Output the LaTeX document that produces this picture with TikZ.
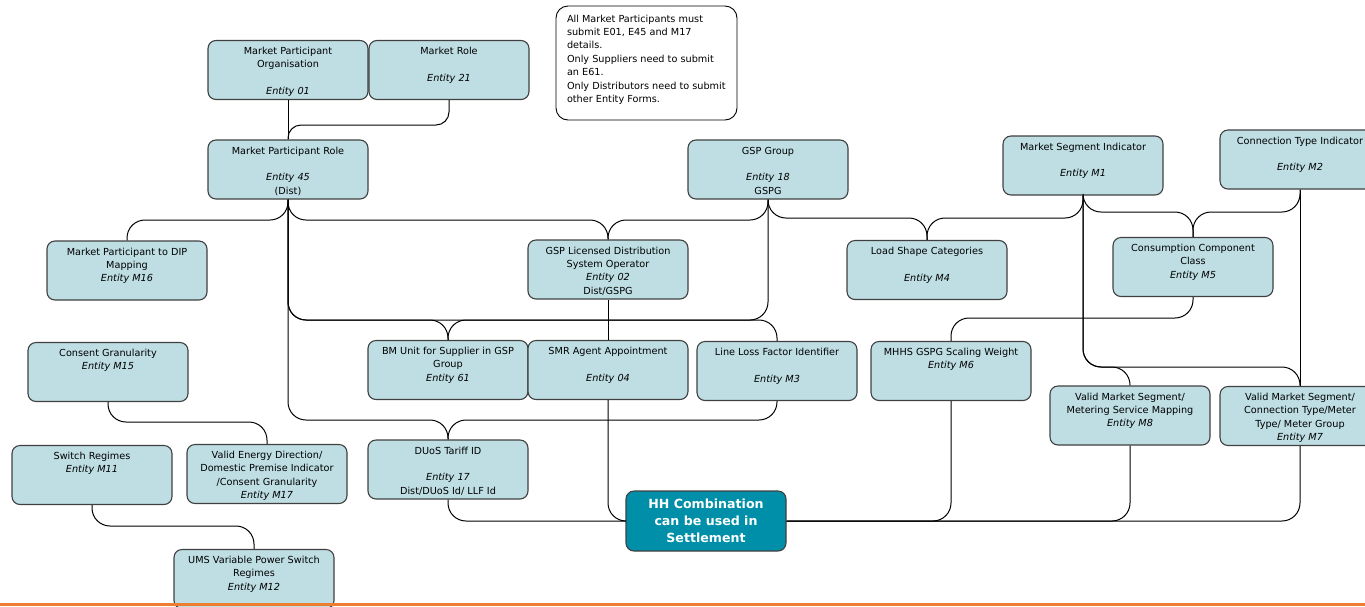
\documentclass[tikz,border=0pt]{standalone}
\usepackage{fontspec}
\setmainfont{DejaVu Sans}
\definecolor{boxblue}{RGB}{190,222,228}
\definecolor{boxline}{RGB}{64,64,64}
\definecolor{hhteal}{RGB}{0,143,168}
\definecolor{orangebar}{RGB}{237,125,49}
\newcommand{\et}[1]{\parbox[c][59pt][t]{158pt}{\centering\fontsize{9.7}{13.4}\selectfont\rule{0pt}{14pt}#1}}
\begin{document}
\begin{tikzpicture}[x=1pt,y=-1pt,
  ebox/.style={draw=boxline, fill=boxblue, line width=1.1pt, rounded corners=8pt, inner sep=0pt, minimum width=160pt, minimum height=59pt},
  hhbox/.style={draw=boxline, fill=hhteal, line width=1.1pt, rounded corners=8pt, inner sep=0pt, minimum width=160pt, minimum height=60pt, align=center, text=white, font=\fontsize{12.6}{17}\selectfont\bfseries},
  notebox/.style={draw=black, fill=white, line width=0.9pt, rounded corners=12pt, inner sep=0pt, minimum width=181pt, minimum height=114pt},
  conn/.style={draw=black, line width=1pt, rounded corners=18pt}]
\useasboundingbox (0,0) rectangle (1365,606);

% nodes
\node[ebox] (MPO) at (288,70) {\et{Market Participant\\Organisation\\\mbox{}\\\textit{Entity 01}}};
\node[ebox] (Role) at (449,70) {\et{Market Role\\\mbox{}\\\textit{Entity 21}}};
\node[notebox] (note) at (646.5,63) {\parbox[c][114pt][t]{181pt}{\raggedright\leftskip=11pt\fontsize{9.7}{13.4}\selectfont\rule{0pt}{16pt}All Market Participants must\\submit E01, E45 and M17\\details.\\Only Suppliers need to submit\\an E61.\\Only Distributors need to submit\\other Entity Forms.}};
\node[ebox] (MPR) at (288,169.5) {\et{Market Participant Role\\\mbox{}\\\textit{Entity 45}\\(Dist)}};
\node[ebox] (GSPG) at (768,169.5) {\et{GSP Group\\\mbox{}\\\textit{Entity 18}\\GSPG}};
\node[ebox] (MSI) at (1083,165.5) {\et{Market Segment Indicator\\\mbox{}\\\textit{Entity M1}}};
\node[ebox] (CTI) at (1300,159.5) {\et{Connection Type Indicator\\\mbox{}\\\textit{Entity M2}}};
\node[ebox] (M16) at (127,270.5) {\et{Market Participant to DIP\\Mapping\\\textit{Entity M16}}};
\node[ebox] (LDSO) at (608,269.5) {\et{GSP Licensed Distribution\\System Operator\\\textit{Entity 02}\\Dist/GSPG}};
\node[ebox] (M4) at (927,270) {\et{Load Shape Categories\\\mbox{}\\\textit{Entity M4}}};
\node[ebox] (M5) at (1193,267) {\et{Consumption Component\\Class\\\textit{Entity M5}}};
\node[ebox] (M15) at (108,372) {\et{Consent Granularity\\\textit{Entity M15}}};
\node[ebox] (E61) at (448,370) {\et{BM Unit for Supplier in GSP\\Group\\\textit{Entity 61}}};
\node[ebox] (E04) at (608,370) {\et{SMR Agent Appointment\\\mbox{}\\\textit{Entity 04}}};
\node[ebox] (M3) at (777,371) {\et{Line Loss Factor Identifier\\\mbox{}\\\textit{Entity M3}}};
\node[ebox] (M6) at (951,371) {\et{MHHS GSPG Scaling Weight\\\textit{Entity M6}}};
\node[ebox] (M8) at (1130,415.5) {\et{Valid Market Segment/\\Metering Service Mapping\\\textit{Entity M8}}};
\node[ebox] (M7) at (1300,416) {\et{Valid Market Segment/\\Connection Type/Meter\\Type/ Meter Group\\\textit{Entity M7}}};
\node[ebox] (M11) at (92,475) {\et{Switch Regimes\\\textit{Entity M11}}};
\node[ebox] (M17) at (267,474) {\et{Valid Energy Direction/\\Domestic Premise Indicator\\/Consent Granularity\\\textit{Entity M17}}};
\node[ebox] (E17) at (448,469.5) {\et{DUoS Tariff ID\\\mbox{}\\\textit{Entity 17}\\Dist/DUoS Id/ LLF Id}};
\node[hhbox] (HH) at (706,521) {HH Combination\\can be used in\\Settlement};
\node[ebox] (M12) at (254,579) {\et{UMS Variable Power Switch\\Regimes\\\textit{Entity M12}}};

% connectors
\draw[conn] (MPO.south) -- (MPR.north);
\draw[conn, rounded corners=13pt] (Role.south) -- (Role.south |- 0,125) -- (MPR.north |- 0,125) -- (MPR.north);
\draw[conn] (MPR.south) -- (MPR.south |- 0,220) -- (M16.north |- 0,220) -- (M16.north);
\draw[conn] (MPR.south) -- (MPR.south |- 0,220) -- (LDSO.north |- 0,220) -- (LDSO.north);
\draw[conn] (GSPG.south) -- (GSPG.south |- 0,220) -- (LDSO.north |- 0,220) -- (LDSO.north);
\draw[conn] (MPR.south) -- (MPR.south |- 0,320) -- (E61.north |- 0,320) -- (E61.north);
\draw[conn] (GSPG.south) -- (GSPG.south |- 0,320) -- (E61.north |- 0,320) -- (E61.north);
\draw[conn] (MPR.south) -- (MPR.south |- 0,320) -- (M3.north |- 0,320) -- (M3.north);
\draw[conn] (MPR.south) -- (MPR.south |- 0,420) -- (E17.north |- 0,420) -- (E17.north);
\draw[conn] (M3.south) -- (M3.south |- 0,420) -- (E17.north |- 0,420) -- (E17.north);
\draw[conn] (LDSO.south) -- (E04.north);
\draw[conn] (E17.south) -- (E17.south |- HH.west) -- (HH.west);
\draw[conn] (E04.south) -- (E04.south |- HH.west) -- (HH.west);
\draw[conn] (GSPG.south) -- (GSPG.south |- 0,218) -- (M4.north |- 0,218) -- (M4.north);
\draw[conn] (MSI.south) -- (MSI.south |- 0,218) -- (M4.north |- 0,218) -- (M4.north);
\draw[conn] (MSI.south) -- (MSI.south |- 0,212) -- (M5.north |- 0,212) -- (M5.north);
\draw[conn] (CTI.south) -- (CTI.south |- 0,212) -- (M5.north |- 0,212) -- (M5.north);
\draw[conn] (M5.south) -- (M5.south |- 0,318) -- (M6.north |- 0,318) -- (M6.north);
\draw[conn] (MSI.south) -- (MSI.south |- 0,367) -- (M8.north |- 0,367) -- (M8.north);
\draw[conn] (MSI.south) -- (MSI.south |- 0,367) -- (M7.north |- 0,367) -- (M7.north);
\draw[conn] (CTI.south) -- (M7.north);
\draw[conn] (M6.south) -- (M6.south |- HH.east) -- (HH.east);
\draw[conn] (M8.south) -- (M8.south |- HH.east) -- (HH.east);
\draw[conn] (M7.south) -- (M7.south |- HH.east) -- (HH.east);
\draw[conn] (M15.south) -- (M15.south |- 0,422) -- (M17.north |- 0,422) -- (M17.north);
\draw[conn] (M11.south) -- (M11.south |- 0,526) -- (M12.north |- 0,526) -- (M12.north);

% bottom bar
\fill[orangebar] (0,603) rectangle (1365,606);
\end{tikzpicture}
\end{document}
